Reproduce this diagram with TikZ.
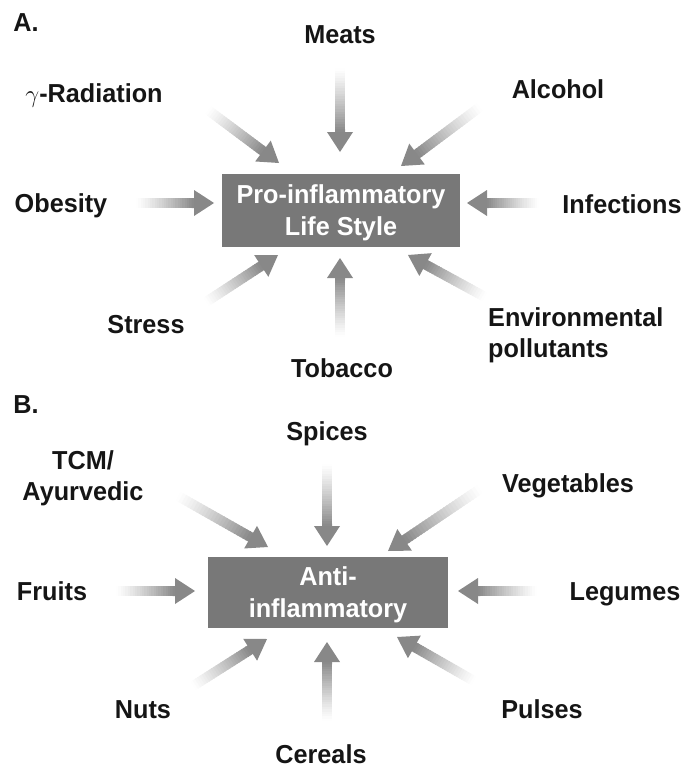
\documentclass[tikz,border=0pt]{standalone}
\usepackage{fontspec}
\setmainfont{Liberation Sans}[FakeStretch=0.97]
\usetikzlibrary{calc}
\definecolor{arrowgray}{HTML}{888888}
\definecolor{boxgray}{HTML}{787878}
\definecolor{labelblack}{HTML}{151515}
\newcommand\fadearrow[2]{%
  \path ($(#2)!20bp!(#1)$) coordinate (fab);
  \foreach \k in {0,...,24}{%
    \pgfmathsetmacro\fapa{\k/25}%
    \pgfmathsetmacro\fapb{(\k+1.4)/25}%
    \pgfmathsetmacro\fapct{100*((\k+0.5)/25)^1.2}%
    \draw[line width=10bp, draw=arrowgray!\fapct!white] ($(#1)!\fapa!(fab)$) -- ($(#1)!\fapb!(fab)$);
  }
  \fill[arrowgray] (#2) -- ($(fab)!13bp!90:(#2)$) -- ($(fab)!13bp!-90:(#2)$) -- cycle;
}
\tikzset{
  lbl/.style={anchor=base, inner sep=0pt, text=labelblack, font=\fontsize{26bp}{31bp}\selectfont\bfseries, align=center},
  panel/.style={lbl},
  centerbox/.style={fill=boxgray, text=white, inner sep=0pt, align=center, text depth=0pt,
    font=\fontsize{26bp}{32bp}\selectfont\bfseries},
}
\begin{document}
\begin{tikzpicture}[x=1bp, y=-1bp]
\useasboundingbox (0,0) rectangle (687,768);
% ---------- Panel A ----------
\node[panel] (labA) at (26,32) {A.};
\node[centerbox, minimum width=238bp, minimum height=73bp] (pro) at (341,210.5) {Pro-inflammatory\\Life Style};
\node[lbl] (meats) at (340,44) {Meats};
\node[lbl] (rad) at (94,102) {$\gamma$-Radiation};
\node[lbl] (alc) at (558,98) {Alcohol};
\node[lbl] (obe) at (61,212) {Obesity};
\node[lbl] (inf) at (622,213) {Infections};
\node[lbl] (str) at (146,333) {Stress};
\node[lbl] (tob) at (342,377) {Tobacco};
\node[lbl, anchor=base west, align=left] (env) at (488,357) {Environmental\\pollutants};
\coordinate (meatsT) at (340,68);  \coordinate (meatsH) at (340,152);
\coordinate (radT) at (208,110);   \coordinate (radH) at (279,163);
\coordinate (alcT) at (480,107);   \coordinate (alcH) at (401,166);
\coordinate (obeT) at (136,203);   \coordinate (obeH) at (214,203);
\coordinate (infT) at (539,203);   \coordinate (infH) at (467,203);
\coordinate (strT) at (206,302);   \coordinate (strH) at (278,255);
\coordinate (tobT) at (340,337);   \coordinate (tobH) at (340,258);
\coordinate (envT) at (485,297);   \coordinate (envH) at (408,255);
\fadearrow{meatsT}{meatsH}
\fadearrow{radT}{radH}
\fadearrow{alcT}{alcH}
\fadearrow{obeT}{obeH}
\fadearrow{infT}{infH}
\fadearrow{strT}{strH}
\fadearrow{tobT}{tobH}
\fadearrow{envT}{envH}
% ---------- Panel B ----------
\node[panel] (labB) at (26,413) {B.};
\node[centerbox, minimum width=240bp, minimum height=71bp] (anti) at (328,592.5) {Anti-\\inflammatory};
\node[lbl] (spi) at (327,440) {Spices};
\node[lbl] (tcm) at (83,500) {TCM/\\Ayurvedic};
\node[lbl] (veg) at (568,492) {Vegetables};
\node[lbl] (fru) at (52,600) {Fruits};
\node[lbl] (leg) at (625,600) {Legumes};
\node[lbl] (nut) at (143,718) {Nuts};
\node[lbl] (pul) at (542,718) {Pulses};
\node[lbl] (cer) at (321,763) {Cereals};
\coordinate (spiT) at (327,464);   \coordinate (spiH) at (327,546);
\coordinate (tcmT) at (178,496);   \coordinate (tcmH) at (268,547);
\coordinate (vegT) at (480,489);   \coordinate (vegH) at (388,551);
\coordinate (fruT) at (116,591);   \coordinate (fruH) at (195,591);
\coordinate (legT) at (537,591);   \coordinate (legH) at (458,591);
\coordinate (nutT) at (193,686);   \coordinate (nutH) at (267,639);
\coordinate (cerT) at (327,721);   \coordinate (cerH) at (327,642);
\coordinate (pulT) at (474,681);   \coordinate (pulH) at (397,637);
\fadearrow{spiT}{spiH}
\fadearrow{tcmT}{tcmH}
\fadearrow{vegT}{vegH}
\fadearrow{fruT}{fruH}
\fadearrow{legT}{legH}
\fadearrow{nutT}{nutH}
\fadearrow{cerT}{cerH}
\fadearrow{pulT}{pulH}
\end{tikzpicture}
\end{document}
